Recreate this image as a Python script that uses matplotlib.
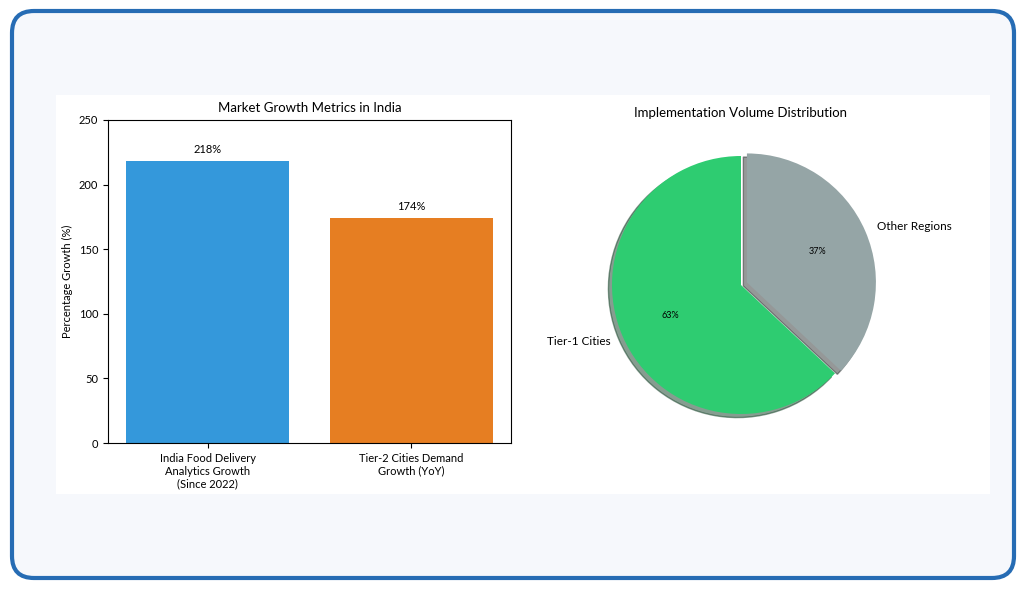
import matplotlib.pyplot as plt
from matplotlib.patches import FancyBboxPatch, Rectangle

plt.rcParams['font.family'] = ['Lato', 'DejaVu Sans']

# bar chart data
bar_labels = ['India Food Delivery\nAnalytics Growth\n(Since 2022)', 'Tier-2 Cities Demand\nGrowth (YoY)']
bar_values = [218, 174]
bar_colors = ['#3498db', '#e67e22']

# pie chart data
pie_labels = ['Tier-1 Cities', 'Other Regions']
pie_values = [63, 37]
pie_colors = ['#2ecc71', '#95a5a6']

W, H = 1026, 589
fig = plt.figure(figsize=(W / 100, H / 100), dpi=100)
fig.patch.set_facecolor('white')

# background card with rounded blue border
bg = fig.add_axes([0, 0, 1, 1], zorder=-5)
bg.set_xlim(0, W)
bg.set_ylim(0, H)
bg.axis('off')
bg.add_patch(FancyBboxPatch((12, 11), W - 24, H - 22,
                            boxstyle='round,pad=0,rounding_size=22',
                            facecolor='#f6f8fc', edgecolor='#266cb4', linewidth=3))
bg.add_patch(Rectangle((56, 95), 934, 399, facecolor='white', edgecolor='none'))

# bar chart
ax1 = fig.add_axes([108 / W, (H - 443) / H, 403 / W, 323 / H])
bars = ax1.bar(bar_labels, bar_values, color=bar_colors, width=0.8)
for b, v in zip(bars, bar_values):
    ax1.text(b.get_x() + b.get_width() / 2, v + 5, f'{v}%',
             ha='center', va='bottom', fontsize=8)
ax1.set_ylim(0, 250)
ax1.set_title('Market Growth Metrics in India', fontsize=9.5)
ax1.set_ylabel('Percentage Growth (%)', fontsize=8)
ax1.tick_params(labelsize=8)

# pie chart
r = 129
cx, cy = 741, 285
side = 2.5 * r
ax2 = fig.add_axes([(cx - side / 2) / W, (H - cy - side / 2) / H, side / W, side / H])
ax2.pie(pie_values, labels=pie_labels, colors=pie_colors, autopct='%1.0f%%',
        startangle=90, explode=[0, 0.05], shadow=True,
        textprops={'fontsize': 8.5})
for t in ax2.texts:
    if t.get_text().endswith('%'):
        t.set_fontsize(6.5)
ax2.set_xlim(-1.25, 1.25)
ax2.set_ylim(-1.25, 1.25)
ax2.set_aspect('equal')
ax2.set_title('Implementation Volume Distribution', fontsize=9.5, pad=5)

fig.savefig('out.png', dpi=100)
